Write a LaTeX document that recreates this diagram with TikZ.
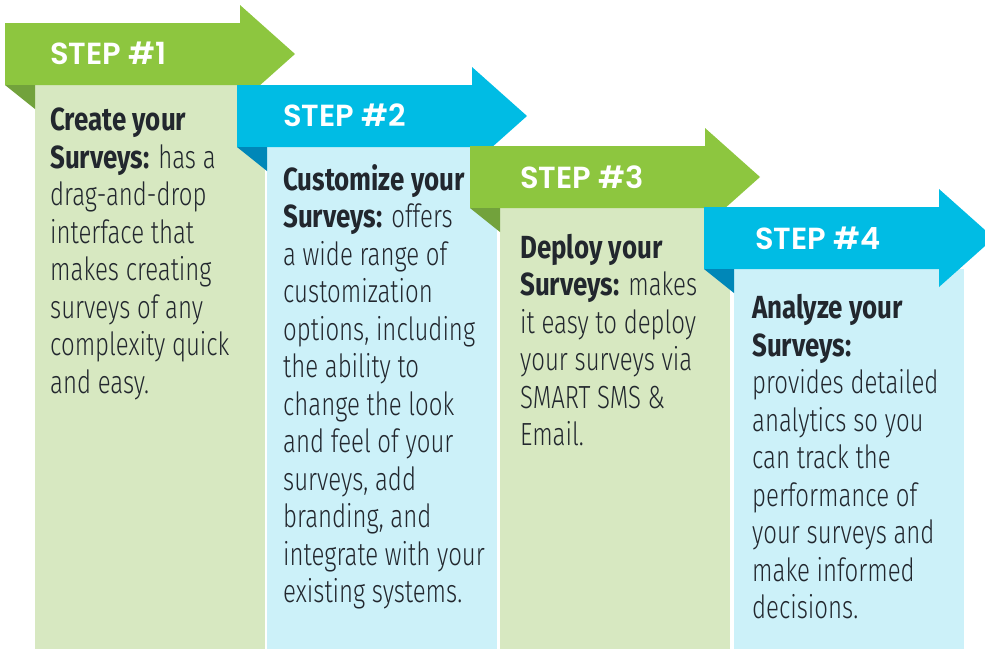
\documentclass[tikz,border=0pt]{standalone}
\usepackage{fontspec}
\newfontfamily\bodyfont[FakeStretch=0.75,UprightFont={* Light},BoldFont={* Bold},BoldFeatures={FakeStretch=0.81}]{Fira Sans}
\newfontfamily\headfont[UprightFont={* SemiBold}]{Poppins}
\definecolor{gband}{HTML}{8DC63F}
\definecolor{gfold}{HTML}{72A23C}
\definecolor{gbox}{HTML}{D7E8C1}
\definecolor{bband}{HTML}{00BCE4}
\definecolor{bfold}{HTML}{0087B8}
\definecolor{bbox}{HTML}{CCF1F9}
\definecolor{txt}{HTML}{22272E}
\newcommand\drawstep[5]{%
  \fill[#5] (#1+30,-#2-62) rectangle (#1+260,-649);
  \fill[#3] (#1,-#2) -- (#1+235,-#2) -- (#1+235,-#2+18) -- (#1+290,-#2-31)
     -- (#1+235,-#2-80) -- (#1+235,-#2-62) -- (#1,-#2-62) -- cycle;
  \fill[#4] (#1,-#2-62) -- (#1+30,-#2-62) -- (#1+30,-#2-86) -- cycle;
}
\tikzset{
  head/.style={anchor=west, inner sep=0pt, text=white, font=\headfont\fontsize{30.5}{31}\selectfont},
  body/.style={anchor=north west, inner sep=0pt, align=left, text=txt, font=\bodyfont\fontsize{32}{37.5}\selectfont},
}
\begin{document}
\begin{tikzpicture}[x=1pt,y=1pt]
\useasboundingbox (0,0) rectangle (985,-649);
\clip (0,0) rectangle (985,-649);
\drawstep{5}{23}{gband}{gfold}{gbox}
\drawstep{237}{85}{bband}{bfold}{bbox}
\drawstep{470}{146}{gband}{gfold}{gbox}
\drawstep{704}{207}{bband}{bfold}{bbox}

\node[head] (h1) at (50,-53) {STEP \#1};
\node[head] (h2) at (283,-115) {STEP \#2};
\node[head] (h3) at (520,-177) {STEP \#3};
\node[head] (h4) at (755,-238) {STEP \#4};

\node[body] (t1) at (50,-108) {\textbf{Create your}\\ \textbf{Surveys:} has a\\ drag-and-drop\\ interface that\\ makes creating\\ surveys of any\\ complexity quick\\ and easy.};
\node[body] (t2) at (283,-164) {\textbf{Customize your}\\ \textbf{Surveys:} offers\\ a wide range of\\ customization\\ options, including\\ the ability to\\ change the look\\ and feel of your\\ surveys, add\\ branding, and\\ integrate with your\\ existing systems.};
\node[body] (t3) at (520,-234) {\textbf{Deploy your}\\ \textbf{Surveys:} makes\\ it easy to deploy\\ your surveys via\\ SMART SMS \&\\ Email.};
\node[body] (t4) at (752,-294) {\textbf{Analyze your}\\ \textbf{Surveys:}\\ provides detailed\\ analytics so you\\ can track the\\ performance of\\ your surveys and\\ make informed\\ decisions.};
\end{tikzpicture}
\end{document}
